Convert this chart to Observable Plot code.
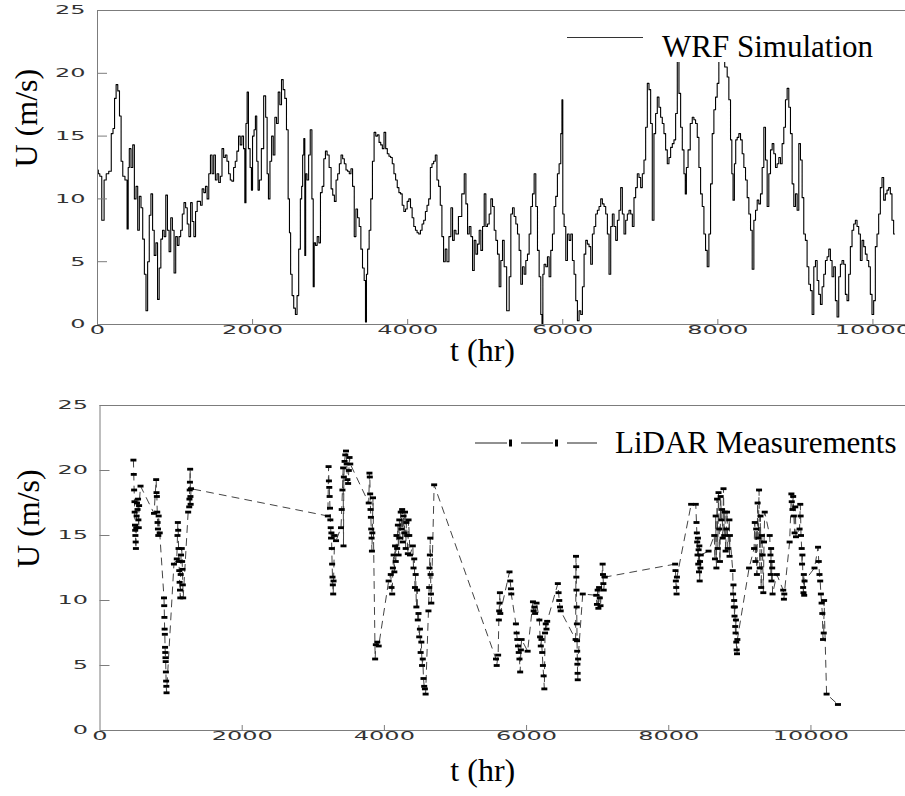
<!DOCTYPE html>
<html><head><meta charset="utf-8">
<script src="https://cdn.jsdelivr.net/npm/d3@7"></script>
<script src="https://cdn.jsdelivr.net/npm/@observablehq/plot@0.6"></script>
<style>
html,body{margin:0;padding:0;background:#fff;}
body{width:905px;height:796px;overflow:hidden;position:relative;}
#top,#bottom{position:absolute;left:0;}
#top{top:0;} #bottom{top:390px;}
svg{display:block;}
</style></head><body>
<div id="top"></div><div id="bottom"></div>
<script>
// ---- WRF simulation (hours, m/s) ----
const wrfT = [0,20,40,70,100,125,165,190,210,230,250,273,294,315,337,371,392,400,420,444,465,486,508,529,550,572,594,615,636,657,678,700,721,742,764,785,806,828,849,870,891,913,934,955,977,998,1019,1040,1062,1083,1104,1126,1147,1168,1190,1211,1232,1254,1275,1296,1318,1339,1360,1382,1403,1424,1446,1467,1488,1510,1531,1552,1574,1595,1616,1638,1659,1680,1702,1723,1744,1766,1787,1808,1830,1851,1872,1894,1906,1923,1936,1957,1979,1991,2008,2030,2043,2064,2077,2098,2128,2158,2179,2196,2213,2235,2256,2277,2298,2320,2341,2362,2384,2405,2426,2448,2469,2482,2499,2520,2541,2563,2584,2605,2627,2639,2652,2669,2678,2691,2712,2733,2754,2776,2788,2801,2822,2844,2865,2886,2908,2929,2950,2972,3002,3023,3044,3066,3087,3108,3130,3151,3172,3194,3215,3236,3258,3279,3300,3322,3343,3364,3386,3407,3428,3450,3462,3475,3492,3514,3535,3556,3578,3599,3620,3642,3663,3684,3706,3727,3748,3770,3791,3812,3834,3855,3876,3898,3919,3940,3962,3983,4004,4026,4047,4068,4090,4111,4132,4154,4175,4196,4218,4239,4260,4282,4303,4324,4346,4367,4388,4410,4431,4452,4474,4495,4517,4547,4568,4590,4611,4633,4676,4719,4740,4762,4783,4805,4826,4848,4869,4890,4912,4933,4955,4976,4998,5019,5040,5062,5083,5105,5127,5148,5169,5191,5212,5234,5255,5298,5320,5341,5363,5384,5406,5427,5448,5470,5491,5513,5534,5556,5577,5599,5620,5642,5663,5685,5706,5727,5738,5749,5770,5792,5813,5835,5856,5878,5899,5920,5942,5964,5985,5994,6007,6028,6050,6071,6093,6114,6135,6157,6178,6200,6221,6243,6264,6286,6307,6328,6350,6371,6393,6414,6436,6457,6479,6500,6522,6543,6565,6586,6608,6629,6650,6672,6694,6715,6736,6758,6779,6801,6822,6844,6865,6887,6908,6929,6951,6972,6994,7015,7037,7058,7080,7101,7123,7144,7165,7187,7208,7230,7251,7273,7294,7316,7337,7359,7380,7402,7423,7445,7466,7488,7509,7531,7552,7574,7586,7603,7629,7659,7681,7702,7724,7745,7767,7788,7810,7831,7852,7874,7895,7917,7938,7960,7981,8002,8024,8067,8110,8131,8153,8174,8187,8205,8222,8239,8260,8282,8303,8325,8346,8368,8389,8411,8432,8454,8475,8497,8518,8539,8561,8582,8604,8625,8647,8668,8690,8711,8733,8754,8775,8797,8818,8840,8861,8883,8904,8926,8947,8969,8990,9012,9033,9055,9076,9098,9118,9140,9162,9184,9205,9227,9248,9270,9291,9312,9334,9355,9377,9398,9420,9441,9462,9484,9505,9527,9548,9570,9591,9612,9634,9655,9677,9698,9720,9741,9763,9784,9806,9827,9849,9870,9892,9913,9935,9956,9977,9999,10020,10042,10063,10085,10106,10128,10149,10171,10192,10214,10235,10256,10278];
const wrfU = [12.3,12.0,11.8,8.3,11.5,12.0,12.2,15.2,15.6,18.0,19.1,18.6,16.6,13.0,11.8,11.5,7.6,12.5,14.0,12.5,14.3,10.0,11.0,7.5,10.2,9.3,6.8,4.0,1.1,5.0,8.7,10.4,7.5,5.5,6.5,2.0,4.5,6.8,7.5,7.0,10.3,7.5,5.8,8.5,7.5,4.1,7.0,6.3,7.0,7.5,8.8,9.7,9.3,8.0,7.0,9.7,8.2,7.0,9.0,9.8,9.8,9.5,10.8,10.5,11.0,10.0,12.0,13.5,12.0,13.5,11.5,12.0,11.3,11.8,14.0,13.3,13.5,13.0,12.0,11.5,11.4,12.5,13.0,13.8,15.0,14.3,15.0,14.0,9.7,16.0,18.5,14.0,12.5,10.7,15.0,15.5,16.6,13.0,10.7,11.5,14.0,18.2,16.5,12.0,10.0,13.0,15.0,13.5,16.5,16.0,18.5,17.5,19.5,18.7,18.0,15.5,10.0,7.3,4.0,2.3,1.3,0.8,2.3,6.0,10.0,11.0,13.5,14.8,5.5,12.0,11.5,13.5,15.5,10.0,3.0,6.5,6.3,7.0,6.5,10.5,11.0,13.2,13.8,13.5,12.5,10.8,10.3,9.8,11.5,12.0,12.8,13.5,13.2,12.8,12.3,12.2,12.0,12.4,11.0,7.0,9.2,8.5,7.8,6.0,4.5,3.5,0.2,4.0,6.0,7.5,10.0,13.0,15.3,15.0,15.1,14.5,14.3,14.0,15.3,14.0,13.6,13.4,13.3,12.8,12.0,11.5,10.9,10.5,10.4,9.5,9.0,9.2,9.8,10.0,9.3,8.5,7.8,7.5,7.3,7.2,7.5,8.0,8.3,9.0,9.5,10.0,12.5,12.8,13.0,13.5,11.5,11.0,9.5,7.0,5.0,6.0,5.0,7.0,9.3,6.7,7.5,7.2,8.6,10.4,12.0,9.6,7.2,7.8,7.0,4.3,6.7,5.6,6.4,7.5,5.9,7.8,10.4,7.8,8.0,8.8,10.0,9.4,7.5,6.7,5.6,3.0,5.1,6.7,4.6,1.1,3.8,8.8,9.3,8.6,8.0,7.2,5.9,3.2,4.6,4.0,5.1,5.6,7.2,9.4,10.4,12.0,9.4,5.9,3.8,0.8,0.0,4.0,4.8,4.6,5.4,3.8,5.9,7.2,9.4,10.2,12.0,12.8,15.2,17.9,8.8,7.8,5.1,7.2,6.7,7.2,5.1,4.0,1.9,0.3,1.1,0.8,3.0,5.6,6.7,6.4,6.2,4.8,7.2,7.8,8.8,9.1,9.4,10.0,9.6,9.4,8.8,7.2,4.0,7.8,8.8,7.8,6.7,8.3,9.1,10.9,8.8,7.2,8.3,8.8,9.1,8.8,7.8,10.1,10.9,12.0,11.7,10.9,12.0,13.1,15.7,19.2,18.7,16.0,8.3,15.2,16.8,18.1,17.3,16.5,16.0,15.2,13.9,12.8,13.3,14.1,14.4,14.7,16.8,21.2,18.4,15.7,13.9,12.0,10.4,12.5,13.9,16.0,16.5,16.3,16.0,14.9,12.5,10.4,9.4,7.2,5.9,4.6,7.2,11.2,15.2,17.1,18.1,19.2,21.0,21.3,20.5,19.7,17.9,14.7,12.0,9.9,12.8,14.7,14.9,15.2,14.7,13.6,12.5,11.5,10.1,8.8,7.5,4.4,8.3,9.1,9.9,9.6,10.4,12.5,15.7,13.1,9.4,12.0,13.9,14.4,13.6,12.5,12.8,13.3,12.8,14.4,15.7,17.9,18.8,17.3,15.2,11.2,9.4,10.4,9.1,14.4,13.1,10.1,7.2,6.7,4.6,3.2,2.7,0.8,4.6,5.1,3.5,2.4,1.6,3.0,4.0,5.1,5.4,6.0,5.1,3.8,4.6,1.9,0.6,3.8,4.8,5.1,4.8,2.4,1.9,4.0,6.2,7.5,8.0,8.3,7.8,7.2,5.1,6.7,6.2,5.6,5.1,4.6,2.4,0.8,1.9,6.2,7.2,8.8,10.9,11.7,9.9,10.4,10.7,10.9,10.4,8.3,7.2];

// ---- LiDAR measurements (hours, m/s) ----
const lidarT = [470,475,480,485,488,492,495,498,502,505,510,515,520,528,535,540,545,550,570,760,790,795,800,805,810,815,820,825,840,900,903,906,909,912,915,918,921,924,927,930,933,936,1040,1080,1090,1095,1100,1105,1110,1115,1120,1125,1130,1135,1140,1150,1155,1160,1165,1170,1240,1255,1258,1262,1265,1268,1272,1275,1280,3205,3215,3220,3225,3230,3235,3240,3245,3250,3255,3260,3265,3270,3275,3280,3285,3300,3320,3390,3400,3410,3420,3425,3430,3440,3450,3460,3470,3480,3490,3500,3510,3520,3780,3790,3795,3800,3805,3810,3815,3820,3825,3830,3840,3870,3880,3900,3920,4060,4090,4100,4110,4120,4130,4140,4150,4160,4170,4180,4190,4200,4210,4220,4230,4240,4250,4260,4270,4280,4290,4300,4310,4320,4330,4340,4350,4360,4400,4410,4420,4430,4440,4450,4460,4470,4480,4490,4500,4510,4520,4530,4540,4550,4560,4570,4580,4620,4630,4635,4640,4645,4650,4655,4660,4700,5570,5580,5600,5610,5615,5620,5625,5630,5760,5770,5780,5785,5850,5860,5870,5880,5890,5900,5910,5920,5930,6015,6090,6100,6110,6120,6140,6180,6190,6200,6210,6220,6230,6240,6250,6260,6270,6280,6290,6440,6450,6460,6470,6480,6690,6695,6698,6700,6702,6705,6708,6710,6712,6715,6718,6720,6725,6790,6980,6990,7000,7010,7020,7030,7040,7070,7075,7080,7085,7100,8090,8095,8100,8105,8110,8115,8315,8380,8390,8395,8400,8405,8410,8415,8420,8425,8430,8435,8440,8445,8450,8560,8640,8650,8660,8670,8680,8690,8700,8710,8720,8730,8740,8750,8760,8770,8780,8790,8800,8810,8820,8830,8853,8855,8860,8900,8905,8910,8915,8920,8925,8930,8935,8940,8945,8950,8955,8960,8965,9130,9200,9210,9220,9230,9240,9250,9260,9270,9280,9290,9300,9310,9320,9330,9340,9350,9420,9430,9435,9440,9445,9450,9455,9460,9520,9610,9620,9625,9700,9725,9730,9740,9750,9760,9770,9780,9790,9840,9850,9855,9860,9870,9875,9880,9890,9895,9900,9905,9910,10050,10100,10110,10120,10130,10140,10150,10160,10170,10180,10185,10220,10380];
const lidarU = [20.8,19.7,18.5,17.6,16.8,15.8,15.4,15.0,14.5,14.0,15.6,16.5,17.5,17.0,17.8,16.2,15.6,17.3,18.8,16.7,19.3,18.3,18.0,16.8,16.0,15.5,15.0,16.5,15.2,10.2,9.6,8.7,7.8,7.4,6.4,6.0,5.6,5.3,4.5,3.8,3.4,2.9,12.8,13.2,15.0,16.0,15.4,14.0,13.0,12.3,11.4,10.8,10.2,12.0,13.5,14.0,13.0,12.4,11.2,10.2,16.8,17.2,17.8,18.5,19.1,20.1,18.0,17.4,18.6,16.5,20.3,19.2,18.7,18.0,17.1,16.2,15.6,14.8,15.2,14.0,12.8,11.8,11.2,10.5,11.5,15.0,14.6,15.6,17.0,18.5,20.2,14.2,19.5,20.7,21.2,21.5,20.5,19.3,19.0,20.0,21.0,20.5,17.5,19.8,19.5,18.2,17.0,16.4,15.5,14.8,13.8,15.2,17.9,5.5,6.6,6.8,6.5,11.5,12.0,11.0,10.5,12.5,13.5,12.2,14.2,13.0,15.0,14.0,15.8,13.5,16.2,14.8,16.8,15.5,17.0,14.5,16.5,15.2,16.8,14.0,16.0,15.0,13.6,16.2,15.0,13.5,14.2,12.5,13.2,11.0,12.0,9.5,10.8,8.5,9.0,7.2,7.8,6.0,6.8,5.0,5.5,4.0,3.4,3.2,2.8,9.2,11.0,12.5,13.5,14.8,12.0,10.5,9.8,18.9,5.5,5.0,5.8,8.5,9.2,9.8,10.6,9.0,12.2,11.5,10.9,10.5,8.2,7.5,7.0,6.5,6.0,5.5,4.5,6.2,7.0,6.1,9.9,9.2,9.5,9.0,9.8,8.5,7.2,6.5,7.0,6.0,5.0,4.2,3.2,7.5,8.2,7.8,8.4,11.3,10.6,10.0,9.5,9.2,7.0,13.4,12.6,11.8,10.8,9.5,8.2,6.9,6.1,5.1,4.4,3.9,5.5,10.5,10.4,9.7,10.8,9.4,11.0,10.2,9.6,12.8,12.0,11.3,10.8,11.8,12.8,12.3,11.5,11.0,10.5,11.8,17.4,17.4,16.0,15.2,14.5,13.5,14.8,12.8,13.9,12.2,14.2,11.5,13.0,12.5,13.5,13.8,15.0,13.2,16.5,12.5,17.8,14.0,18.3,15.5,13.0,18.0,16.2,17.0,14.8,18.6,15.0,16.8,13.8,15.5,16.8,14.0,16.2,13.4,15.0,12.3,10.5,11.2,9.5,10.0,8.8,9.5,8.0,7.5,8.5,6.8,6.2,5.9,7.0,12.5,14.0,16.0,13.0,15.5,12.0,17.5,14.8,18.5,12.5,16.5,11.0,15.0,13.5,10.6,14.5,16.8,15.0,13.5,12.0,14.0,11.5,13.0,12.5,10.5,12.0,10.8,10.1,10.5,14.5,18.2,17.6,17.0,18.0,16.5,15.2,17.2,14.9,15.5,17.4,16.5,15.0,14.0,12.8,13.5,11.0,10.6,12.0,10.4,11.5,12.5,14.1,13.0,12.0,11.5,10.5,9.8,9.0,7.0,7.5,10.0,2.8,2.0];

// ---- axes ----
const xTicks = [0, 2000, 4000, 6000, 8000, 10000];
const yTicks = [0, 5, 10, 15, 20, 25];
const yLabel = "U (m/s)";
const xLabel = "t (hr)";
const wrfName = "WRF Simulation";
const lidarName = "LiDAR Measurements";

const W = 905;
const SERIF = "'Liberation Serif', 'Times New Roman', serif";
const SANS = "'DejaVu Sans', sans-serif";
const wrf = wrfT.map((t, i) => ({t, u: wrfU[i]}));
const lidar = lidarT.map((t, i) => ({t, u: lidarU[i]}));
const barSymbol = {draw(ctx) { ctx.rect(-3, -1.4, 6, 2.8); }};
const AX = "#7c7c7c";

function panel({height, marginTop, marginBottom, marginLeft, xMax, dataMarks, labelDy, labelDx}) {
  const plotW = W - marginLeft, plotH = height - marginTop - marginBottom;
  const svg = Plot.plot({
    width: W, height, marginTop, marginBottom, marginLeft, marginRight: 0,
    x: {domain: [0, xMax], axis: null},
    y: {domain: [0, 25], axis: null},
    style: {background: "white", overflow: "visible"},
    marks: [
      ...dataMarks,
      Plot.ruleY([0, 25], {y: d => d, stroke: AX, strokeWidth: 1}),
      Plot.ruleX([0], {x: d => d, stroke: AX, strokeWidth: 1}),
      Plot.tickY(yTicks.filter(d => d > 0 && d < 25), {y: d => d, insetRight: plotW - 10, stroke: AX}),
      Plot.tickX(xTicks.filter(d => d > 0), {x: d => d, insetTop: plotH - 5, stroke: AX}),
      Plot.text(yTicks, {y: d => d, frameAnchor: "left", dx: -12, textAnchor: "end", text: d => String(d), fontSize: 12, fontFamily: SANS, fill: "#333"}),
      Plot.text(xTicks, {x: d => d, frameAnchor: "bottom", dy: 9, text: d => String(d), fontSize: 12, fontFamily: SANS, fill: "#333"}),
      Plot.text([yLabel], {frameAnchor: "left", dx: -71, rotate: -90, text: d => d, fontSize: 32, fontFamily: SERIF, fill: "#000"}),
      Plot.text([xLabel], {frameAnchor: "bottom", dx: labelDx, dy: labelDy, text: d => d, fontSize: 32, fontFamily: SERIF, fill: "#000"})
    ]
  });
  // force fonts inline (stylesheet rules beat presentation attributes) and widen tick digits
  svg.querySelectorAll("text").forEach(t => {
    const g = t.closest("[font-family]");
    const fam = g ? String(g.getAttribute("font-family")) : "";
    if (fam.includes("Liberation Serif")) { t.style.fontFamily = SERIF; return; }
    if (!fam.includes("DejaVu Sans")) return;
    t.style.fontFamily = SANS;
    const tr = t.getAttribute("transform");
    if (tr) t.setAttribute("transform", tr + " scale(2,1)");
    else {
      const x = t.getAttribute("x") || 0, y = t.getAttribute("y") || 0;
      t.removeAttribute("x"); t.removeAttribute("y");
      t.setAttribute("transform", `translate(${x},${y}) scale(2,1)`);
    }
  });
  return svg;
}

function legendText(s, x, y, label) {
  s.append("text").attr("x", x).attr("y", y).attr("text-anchor", "start")
    .attr("font-size", 31).attr("fill", "#000")
    .style("font-family", SERIF).style("font-size", "31px").text(label);
}

// top panel
const topSvg = panel({
  height: 390, marginTop: 10, marginBottom: 66, marginLeft: 97, xMax: 10420,
  labelDy: 36, labelDx: -19,
  dataMarks: [Plot.line(wrf, {x: "t", y: "u", curve: "step", stroke: "#000", strokeWidth: 1.1})]
});
document.getElementById("top").appendChild(topSvg);
{
  const s = d3.select(topSvg);
  s.append("rect").attr("x", 553).attr("y", 12).attr("width", 350).attr("height", 50).attr("fill", "#fff");
  s.append("line").attr("x1", 567).attr("x2", 643).attr("y1", 37.5).attr("y2", 37.5).attr("stroke", "#333").attr("stroke-width", 1);
  legendText(s, 662, 57, wrfName);
}

// bottom panel
const botSvg = panel({
  height: 406, marginTop: 15, marginBottom: 66, marginLeft: 99.5, xMax: 11330,
  labelDy: 50, labelDx: -20,
  dataMarks: [
    Plot.line(lidar, {x: "t", y: "u", stroke: "#444", strokeWidth: 1, strokeDasharray: "7,6"}),
    Plot.dot(lidar, {x: "t", y: "u", symbol: barSymbol, fill: "#000", stroke: "none", r: 2})
  ]
});
document.getElementById("bottom").appendChild(botSvg);
{
  const s = d3.select(botSvg);
  const ly = 53;
  [[475, 507], [521, 553], [567, 597]].forEach(([a, b]) =>
    s.append("line").attr("x1", a).attr("x2", b).attr("y1", ly).attr("y2", ly).attr("stroke", "#222").attr("stroke-width", 1));
  [510.5, 556.5].forEach(x =>
    s.append("rect").attr("x", x - 1.5).attr("y", ly - 3.5).attr("width", 3).attr("height", 7).attr("fill", "#000"));
  legendText(s, 615, 63, lidarName);
}
</script>
</body></html>
